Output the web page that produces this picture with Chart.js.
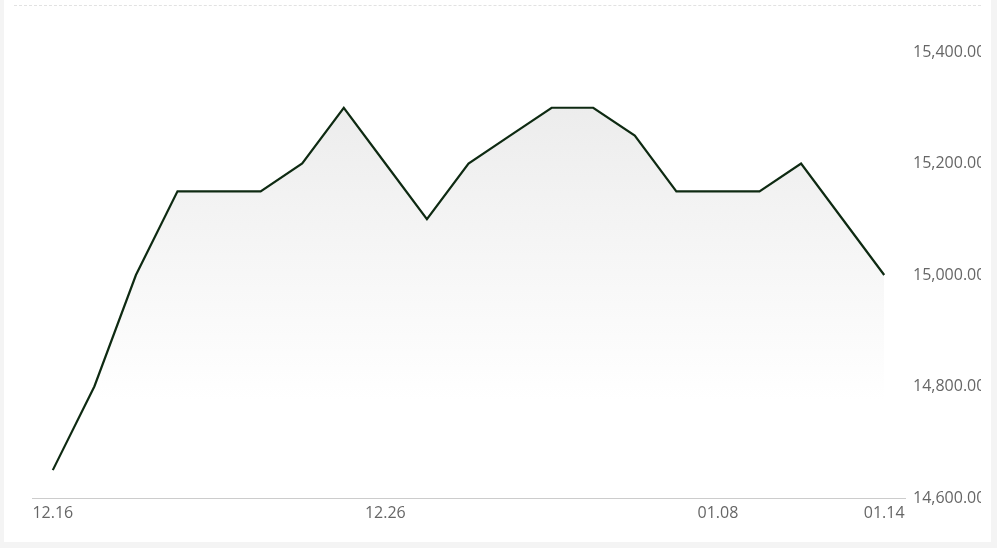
<!DOCTYPE html>
<html>
<head>
<meta charset="utf-8">
<script src="https://cdn.jsdelivr.net/npm/chart.js@4/dist/chart.umd.min.js"></script>
<style>
  body { margin: 0; background: #f4f4f4; width: 997px; height: 548px; overflow: hidden; }
  .panel { position: absolute; left: 4px; top: 0; width: 987px; height: 542px; background: #fff; }
  .inner { position: absolute; left: 10px; top: 5px; width: 967px; height: 530px; border-top: 1px dashed #e2e2e2; overflow: hidden; }
  canvas { position: absolute; left: 0; top: 0; }
</style>
</head>
<body>
<div class="panel">
  <div class="inner">
    <canvas id="chart" width="980" height="530"></canvas>
  </div>
</div>
<script>
const dates = ["12.16", "12.17", "12.18", "12.19", "12.20", "12.23", "12.24", "12.25", "12.26", "12.27", "12.30",
  "12.31", "01.02", "01.03", "01.06", "01.07", "01.08", "01.09", "01.10", "01.13", "01.14"];
const prices = [14650, 14800, 15000, 15150, 15150, 15150, 15200, 15300, 15200, 15100, 15200,
  15250, 15300, 15300, 15250, 15150, 15150, 15150, 15200, 15100, 15000];
const shownDates = ["12.16", "12.26", "01.08", "01.14"];
const yTicks = [14600, 14800, 15000, 15200, 15400];

const fontStyle = { family: "'Open Sans', sans-serif", size: 16 };

function fillGradient(context) {
  const { ctx, chartArea } = context.chart;
  if (!chartArea) return null;
  let g = ctx.createLinearGradient(0, chartArea.top, 0, chartArea.bottom);
  g.addColorStop(0, "#e9e9e9");
  g.addColorStop(0.78, "#ffffff");
  return g;
}

new Chart(document.getElementById("chart"), {
  type: "line",
  data: {
    labels: dates,
    datasets: [{
      data: prices,
      borderColor: "#0e2a12",
      borderWidth: 2.2,
      pointRadius: 0,
      tension: 0,
      fill: "start",
      backgroundColor: fillGradient
    }]
  },
  options: {
    responsive: false,
    animation: false,
    layout: { padding: { left: 18, top: 46, right: 0, bottom: 0 } },
    plugins: { legend: { display: false }, tooltip: { enabled: false } },
    scales: {
      x: {
        offset: true,
        grid: { display: false, drawTicks: false },
        border: { display: true, color: "#cccccc", width: 1 },
        afterFit: (s) => { s.height = 38; },
        ticks: {
          autoSkip: false,
          maxRotation: 0,
          padding: 6,
          color: "#666",
          font: fontStyle,
          callback: function (value) {
            let label = this.getLabelForValue(value);
            return shownDates.includes(label) ? label : "";
          }
        }
      },
      y: {
        position: "right",
        min: 14600,
        max: 15400,
        grid: { display: false, drawTicks: false },
        border: { display: false },
        afterFit: (s) => { s.width = 89; },
        afterBuildTicks: (s) => { s.ticks = yTicks.map((v) => ({ value: v })); },
        ticks: {
          padding: 8,
          color: "#666",
          font: fontStyle,
          callback: (v) => v.toLocaleString("en-US", { minimumFractionDigits: 2, maximumFractionDigits: 2 })
        }
      }
    }
  }
});
</script>
</body>
</html>
